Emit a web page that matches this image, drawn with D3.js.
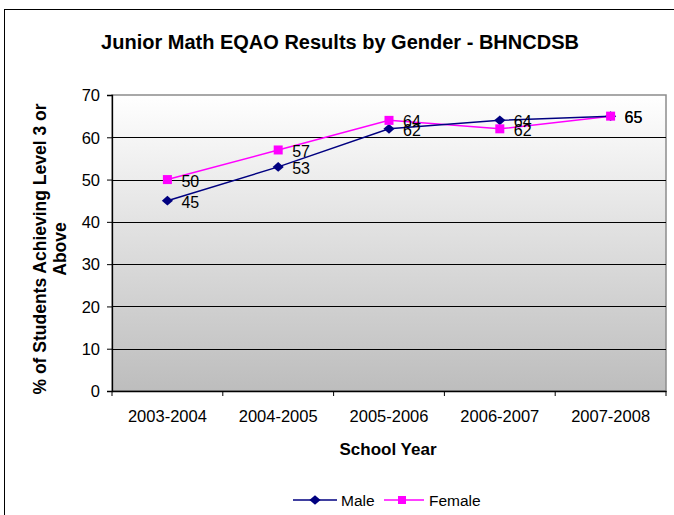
<!DOCTYPE html>
<html><head><meta charset="utf-8">
<script src="https://cdn.jsdelivr.net/npm/d3@7"></script>
<style>body{margin:0;background:#fff;}svg{display:block;font-family:Arial,"Liberation Sans",sans-serif;}</style>
</head><body><svg id="c" width="674" height="515"></svg>
<script>
const categories = ["2003-2004","2004-2005","2005-2006","2006-2007","2007-2008"];
const male = [45,53,62,64,65];
const female = [50,57,64,62,65];
const yTicks = [0,10,20,30,40,50,60,70];

const svg = d3.select("#c");
const FONT = "Arial,'Liberation Sans',sans-serif";
const L=112, R=666, T=95, B=391;
const x = d3.scaleBand().domain(categories).range([L,R]);
const y = d3.scaleLinear().domain([0,70]).range([B,T]);

// outer border
svg.append("rect").attr("x",4.5).attr("y",9.5).attr("width",680).attr("height",520)
  .attr("fill","#fff").attr("stroke","#000").attr("stroke-width",1);

// gradient
const defs = svg.append("defs");
const g = defs.append("linearGradient").attr("id","bg").attr("x1",0).attr("y1",0).attr("x2",0).attr("y2",1);
g.append("stop").attr("offset","0%").attr("stop-color","#ffffff");
g.append("stop").attr("offset","100%").attr("stop-color","#bdbdbd");
svg.append("rect").attr("x",L).attr("y",T).attr("width",R-L).attr("height",B-T).attr("fill","url(#bg)")
  .attr("stroke","#8c8c8c").attr("stroke-width",1.5);

// gridlines
svg.append("g").selectAll("line").data(yTicks.filter(d=>d>0&&d<70)).join("line")
  .attr("x1",L).attr("x2",R).attr("y1",d=>Math.round(y(d))+0.5).attr("y2",d=>Math.round(y(d))+0.5)
  .attr("stroke","#000").attr("stroke-width",1);

// axes
const ya = svg.append("g").attr("transform",`translate(${L},0)`)
  .call(d3.axisLeft(y).tickValues(yTicks).tickSize(5).tickPadding(7));
ya.selectAll("text").attr("font-size",16.5).attr("fill","#000").attr("font-family",FONT).attr("dy","0.35em");
ya.select(".domain").attr("stroke","#000").attr("stroke-width",1.3);
const xa = svg.append("g").attr("transform",`translate(0,${B})`)
  .call(d3.axisBottom(x).tickSize(0).tickPadding(19));
xa.selectAll("text").attr("font-size",16.5).attr("fill","#000").attr("font-family",FONT);
xa.select(".domain").attr("stroke","#000").attr("stroke-width",1.3);
// x tick marks at band boundaries
svg.append("g").selectAll("line").data(categories.concat([null])).join("line")
  .attr("x1",(d,i)=>i<categories.length?x(d):R).attr("x2",(d,i)=>i<categories.length?x(d):R)
  .attr("y1",B).attr("y2",B+5).attr("stroke","#000");

const cx = d=>x(d)+x.bandwidth()/2;
const lineGen = vals => d3.line().x((d,i)=>cx(categories[i])).y(d=>y(d))(vals);

svg.append("path").attr("d",lineGen(female)).attr("fill","none").attr("stroke","#ff00ff").attr("stroke-width",1.5);
svg.append("path").attr("d",lineGen(male)).attr("fill","none").attr("stroke","#000080").attr("stroke-width",1.5);

const diamond = d3.symbol().type(d3.symbolDiamond2).size(60);
svg.append("g").selectAll("path").data(male).join("path")
  .attr("d",diamond).attr("transform",(d,i)=>`translate(${cx(categories[i])},${y(d)}) scale(1.15,1)`).attr("fill","#000080");
svg.append("g").selectAll("rect").data(female).join("rect")
  .attr("x",(d,i)=>cx(categories[i])-4.5).attr("y",d=>y(d)-4.5).attr("width",9).attr("height",9).attr("fill","#ff00ff");

// data labels
const lab = (vals)=>svg.append("g").selectAll("text").data(vals).join("text")
  .attr("x",(d,i)=>cx(categories[i])+14).attr("y",d=>y(d)+7)
  .attr("font-size",16).attr("fill","#000").text(d=>d);
lab(male); lab(female);

// title
svg.append("text").attr("x",340).attr("y",49).attr("text-anchor","middle")
  .attr("font-size",20).attr("font-weight","bold").text("Junior Math EQAO Results by Gender - BHNCDSB");
// axis titles
svg.append("text").attr("x",388).attr("y",455).attr("text-anchor","middle")
  .attr("font-size",17).attr("font-weight","bold").text("School Year");
const yt = svg.append("text").attr("transform","translate(46,249) rotate(-90)").attr("text-anchor","middle")
  .attr("font-size",17.5).attr("font-weight","bold");
yt.append("tspan").attr("x",0).attr("dy",0).text("% of Students Achieving Level 3 or");
yt.append("tspan").attr("x",0).attr("dy",20).text("Above");

// legend
const lg = svg.append("g");
lg.append("line").attr("x1",293).attr("x2",337).attr("y1",500).attr("y2",500).attr("stroke","#000080").attr("stroke-width",1.5);
lg.append("path").attr("d",diamond).attr("transform","translate(315,500) scale(1.15,1)").attr("fill","#000080");
lg.append("text").attr("x",341).attr("y",506).attr("font-size",15.5).text("Male");
lg.append("line").attr("x1",384).attr("x2",424).attr("y1",500).attr("y2",500).attr("stroke","#ff00ff").attr("stroke-width",1.5);
lg.append("rect").attr("x",398).attr("y",496).attr("width",8).attr("height",8).attr("fill","#ff00ff");
lg.append("text").attr("x",429).attr("y",506).attr("font-size",15.5).text("Female");
</script></body></html>
